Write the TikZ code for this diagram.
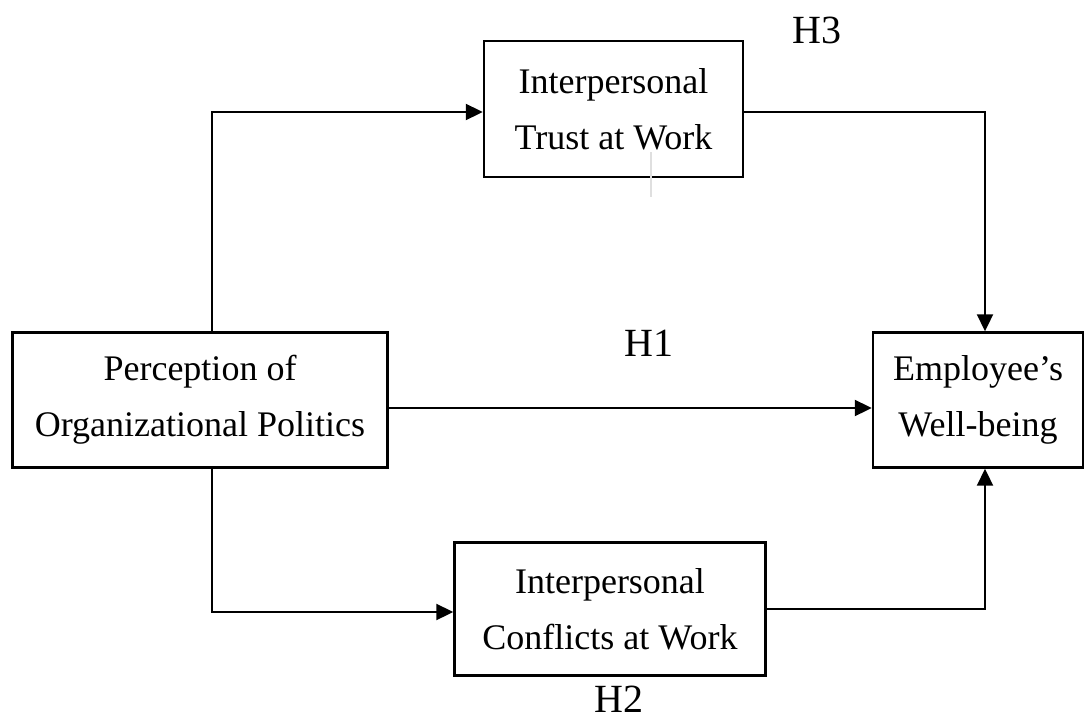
\documentclass[tikz,border=0pt]{standalone}
\usepackage{fontspec}
\setmainfont{Liberation Serif}
\usetikzlibrary{arrows.meta}

\tikzset{
    bloc/.style={draw, line width=1.2pt, inner sep=0pt, align=center,
        font=\fontsize{18}{28}\selectfont},
    fleche/.style={line width=1pt, -{Triangle[length=8.5pt, width=8pt]}},
    hypo/.style={inner sep=0pt, font=\fontsize{20}{24}\selectfont}
}

\begin{document}
\begin{tikzpicture}[x=0.5pt, y=-0.5pt]

    % Cadre de l'image (coordonnees en pixels, axe y vers le bas)
    \useasboundingbox (0,0) rectangle (1092,718);

    % Les quatre variables du modele
    \node[bloc, minimum width=129.5pt, minimum height=68pt] (confiance) at (613.5,109)
        {Interpersonal\\Trust at Work};
    \node[bloc, minimum width=187.5pt, minimum height=67.5pt] (politique) at (200,400)
        {Perception of\\Organizational Politics};
    \node[bloc, minimum width=105pt, minimum height=67.5pt] (bienetre) at (978,400)
        {Employee’s\\Well-being};
    \node[bloc, minimum width=155.5pt, minimum height=66.5pt] (conflits) at (610,609)
        {Interpersonal\\Conflicts at Work};

    % Trait gris clair sous le bloc du haut
    \draw[gray!25, line width=0.6pt] (651,152) -- (651,197);

    % Chemin du haut : politique -> confiance -> bien-etre
    \draw[fleche] ([xshift=6pt]politique.north) |- ([yshift=-1.5pt]confiance.west);
    \draw[fleche] ([yshift=-1.5pt]confiance.east) -| ([xshift=3.5pt]bienetre.north);

    % Effet direct
    \draw[fleche] ([yshift=-4pt]politique.east) -- ([yshift=-4pt]bienetre.west);

    % Chemin du bas : politique -> conflits -> bien-etre
    \draw[fleche] ([xshift=6pt]politique.south) |- ([yshift=-1.5pt]conflits.west);
    \draw[fleche] (conflits.east) -| ([xshift=3.5pt]bienetre.south);

    % Etiquettes des hypotheses
    \node[hypo] (h3) at (817,30) {H3};
    \node[hypo] (h1) at (649,343) {H1};
    \node[hypo] (h2) at (619,699) {H2};

\end{tikzpicture}
\end{document}
